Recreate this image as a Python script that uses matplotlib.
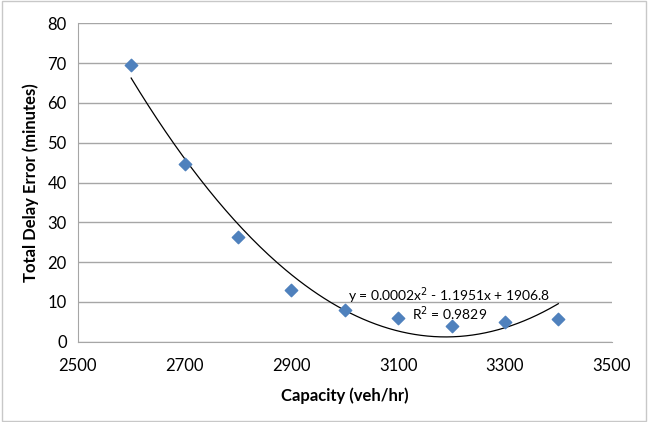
import numpy as np
import matplotlib.pyplot as plt

capacity = [2600, 2700, 2800, 2900, 3000, 3100, 3200, 3300, 3400]
delay_error = [69.6, 44.6, 26.4, 13.0, 8.1, 6.0, 3.9, 5.0, 5.8]
# trendline coefficients (Excel order-2 polynomial; leading term unrounded estimate)
trend_coef = [1.8738e-4, -1.1951, 1906.8]
x_ticks = [2500, 2700, 2900, 3100, 3300, 3500]
y_ticks = [0, 10, 20, 30, 40, 50, 60, 70, 80]

plt.rcParams['font.family'] = ['Lato', 'DejaVu Sans']

fig = plt.figure(figsize=(6.48, 4.22), dpi=100)
ax = fig.add_axes([0.120, 0.190, 0.824, 0.755])

xs = np.linspace(min(capacity), max(capacity), 200)
ax.plot(xs, np.polyval(trend_coef, xs), color='black', linewidth=0.9, zorder=2)

ax.scatter(capacity, delay_error, marker='D', s=40, color='#4F81BD', zorder=3)

ax.set_xlim(2500, 3500)
ax.set_ylim(0, 80)
ax.set_xticks(x_ticks)
ax.set_yticks(y_ticks)
ax.tick_params(length=0, labelsize=12)
ax.tick_params(axis='x', pad=12)
ax.tick_params(axis='y', pad=8)
ax.grid(axis='y', color='#a6a6a6', linewidth=1.0)
ax.set_axisbelow(True)
for s in ['top', 'right']:
    ax.spines[s].set_visible(False)
for s in ['left', 'bottom']:
    ax.spines[s].set_color('#a6a6a6')

ax.set_xlabel('Capacity (veh/hr)', fontsize=12, fontweight='bold', labelpad=9)
ax.set_ylabel('Total Delay Error (minutes)', fontsize=12, fontweight='bold', labelpad=6)

ax.text(3196, 11.6, 'y = 0.0002x$^2$ - 1.1951x + 1906.8', ha='center', va='center', fontsize=10)
ax.text(3196, 7.0, 'R$^2$ = 0.9829', ha='center', va='center', fontsize=10)

# light outer frame like the Excel chart area
fig.patches.append(plt.Rectangle((0.003, 0.003), 0.994, 0.994, transform=fig.transFigure,
                                 fill=False, edgecolor='#c8c8c8', linewidth=1.0))

fig.savefig('out.png', dpi=100)
